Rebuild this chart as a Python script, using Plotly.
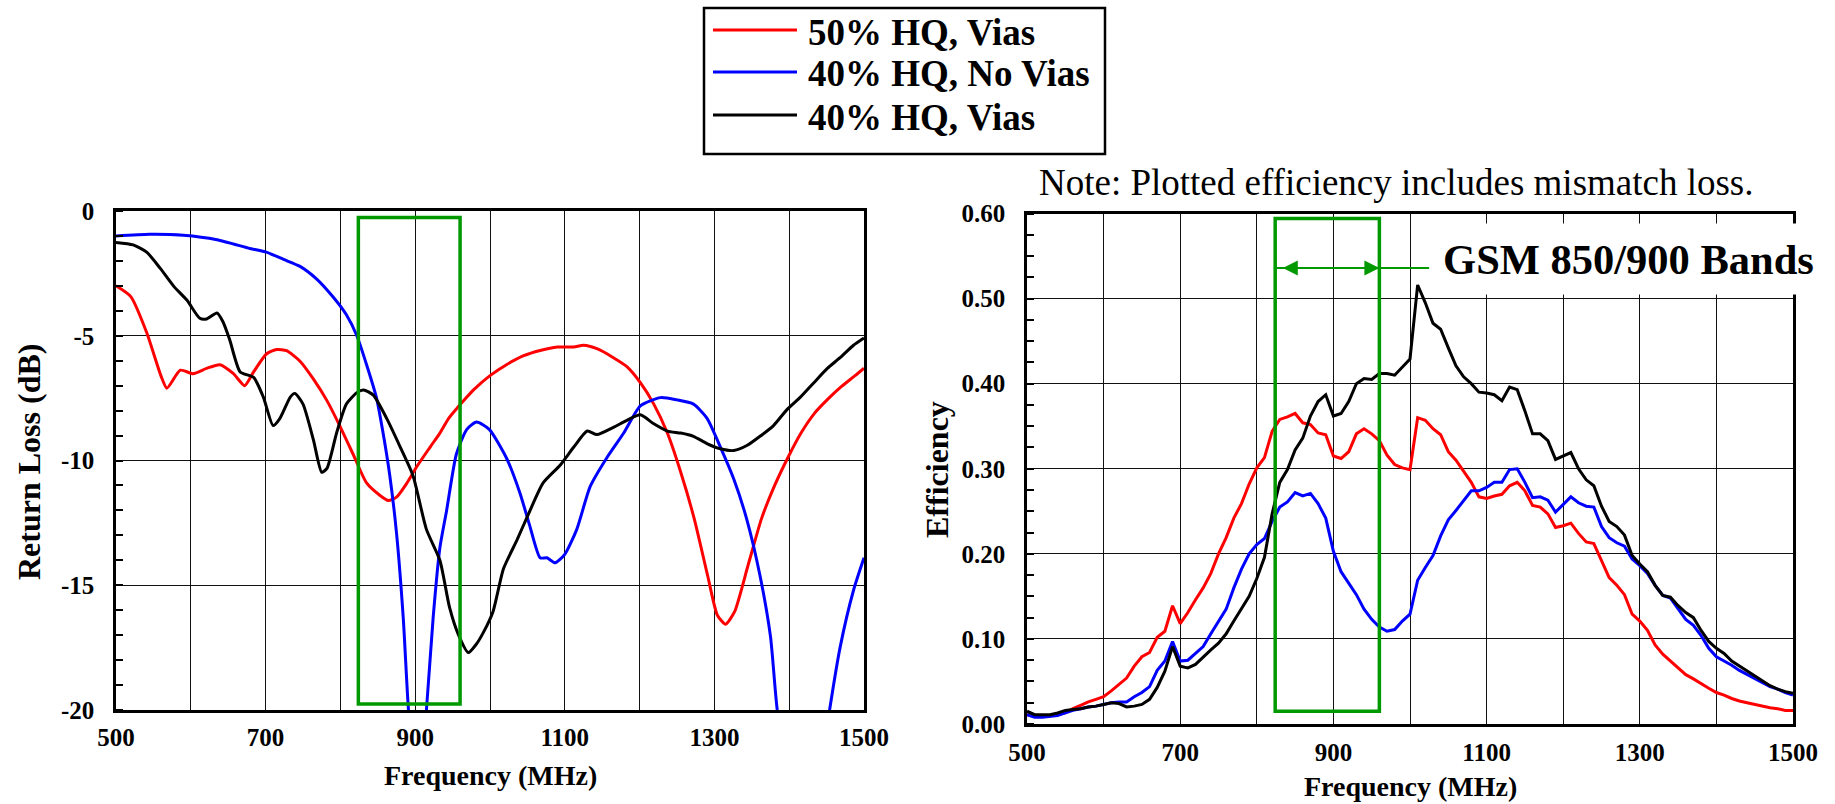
import plotly.graph_objects as go

W, H = 1835, 804
SERIF = "Liberation Serif, Times New Roman, serif"

# ---------------- data ----------------
series_names = ["50% HQ, Vias", "40% HQ, No Vias", "40% HQ, Vias"]
series_colors = ["#ff0000", "#0000ff", "#000000"]

# Return loss (dB)
rl_red_f = [500, 520, 541, 560, 568, 586, 603, 621, 639, 657, 672, 684, 701, 715, 728, 746, 764, 782,
            799, 817, 835, 853, 864, 875, 889, 902, 920, 933, 945, 956, 967, 978, 1000, 1022, 1045,
            1067, 1090, 1112, 1125, 1143, 1165, 1183, 1201, 1219, 1237, 1255, 1273, 1291, 1304, 1315,
            1327, 1345, 1363, 1380, 1398, 1416, 1434, 1452, 1470, 1488, 1500]
rl_red_db = [-3.0, -3.44, -4.87, -6.6, -7.1, -6.38, -6.52, -6.31, -6.16, -6.52, -7.0, -6.45, -5.73,
             -5.55, -5.6, -6.02, -6.74, -7.6, -8.6, -9.75, -10.9, -11.4, -11.6, -11.47, -10.9, -10.25,
             -9.46, -8.9, -8.3, -7.9, -7.53, -7.17, -6.6, -6.16, -5.8, -5.59, -5.45, -5.45, -5.38,
             -5.52, -5.88, -6.24, -6.88, -7.74, -8.89, -10.47, -12.33, -14.62, -16.2, -16.56, -16.06,
             -14.2, -12.33, -11.04, -9.9, -8.89, -8.1, -7.53, -7.03, -6.6, -6.3]

rl_blue_f = [500, 545, 590, 635, 679, 701, 724, 746, 768, 790, 808, 822, 835, 848, 857, 866, 875, 884,
             891, 903, 915, 924, 933, 942, 955, 969, 982, 999, 1022, 1040, 1053, 1067, 1076, 1087,
             1100, 1116, 1134, 1156, 1179, 1201, 1228, 1250, 1272, 1290, 1308, 1326, 1343, 1361, 1375,
             1384, 1420, 1454, 1468, 1486, 1500]
rl_blue_db = [-1.0, -0.93, -0.97, -1.15, -1.5, -1.65, -1.94, -2.22, -2.72, -3.44, -4.16, -5.0, -6.16,
              -7.46, -8.89, -10.6, -12.9, -16.3, -20.0, -24.0, -20.0, -16.3, -13.5, -12.0, -9.75, -8.75,
              -8.46, -8.75, -9.9, -11.3, -12.6, -13.9, -13.9, -14.1, -13.76, -12.76, -11.04, -9.9,
              -8.89, -7.81, -7.48, -7.57, -7.74, -8.3, -9.46, -10.75, -12.33, -14.62, -17.06, -20.0,
              -27.0, -20.0, -17.5, -15.2, -13.9]

rl_black_f = [500, 523, 541, 559, 577, 595, 612, 621, 635, 643, 652, 666, 684, 697, 710, 719, 733, 739,
              750, 764, 775, 782, 795, 808, 822, 831, 844, 862, 880, 897, 915, 933, 946, 958, 971, 982,
              991, 1004, 1018, 1036, 1053, 1071, 1094, 1112, 1130, 1143, 1165, 1183, 1201, 1219, 1237,
              1255, 1272, 1290, 1308, 1326, 1344, 1361, 1379, 1397, 1415, 1433, 1451, 1468, 1486, 1500]
rl_black_db = [-1.26, -1.36, -1.65, -2.29, -3.01, -3.58, -4.3, -4.33, -4.09, -4.44, -5.16, -6.45, -6.67,
               -7.46, -8.6, -8.32, -7.46, -7.31, -7.74, -9.18, -10.47, -10.32, -8.89, -7.74, -7.28,
               -7.17, -7.38, -8.32, -9.46, -10.6, -12.76, -14.0, -15.9, -17.0, -17.7, -17.35, -16.9,
               -16.06, -14.34, -13.19, -12.04, -10.9, -10.18, -9.46, -8.82, -8.96, -8.67, -8.39, -8.17,
               -8.53, -8.82, -8.9, -9.03, -9.32, -9.53, -9.6, -9.39, -9.03, -8.6, -7.96, -7.46, -6.88,
               -6.31, -5.88, -5.38, -5.09]

# Efficiency (10 MHz steps)
eff_f = list(range(500, 1501, 10))
eff_red = [0.011, 0.009, 0.009, 0.010, 0.011, 0.013, 0.018, 0.022, 0.026, 0.029, 0.032, 0.039, 0.047,
           0.054, 0.068, 0.079, 0.084, 0.102, 0.109, 0.139, 0.118, 0.131, 0.146, 0.160, 0.177, 0.200,
           0.219, 0.242, 0.259, 0.282, 0.301, 0.313, 0.344, 0.358, 0.361, 0.365, 0.354, 0.352, 0.342,
           0.340, 0.315, 0.312, 0.320, 0.341, 0.347, 0.341, 0.333, 0.316, 0.305, 0.301, 0.299, 0.360,
           0.357, 0.347, 0.340, 0.320, 0.310, 0.297, 0.284, 0.267, 0.265, 0.268, 0.270, 0.280, 0.284,
           0.274, 0.257, 0.255, 0.247, 0.231, 0.233, 0.236, 0.224, 0.214, 0.212, 0.192, 0.172, 0.163,
           0.152, 0.129, 0.121, 0.110, 0.093, 0.082, 0.074, 0.066, 0.058, 0.053, 0.047, 0.042, 0.037,
           0.034, 0.030, 0.027, 0.025, 0.023, 0.021, 0.019, 0.018, 0.016, 0.016]
eff_blue = [0.011, 0.008, 0.008, 0.009, 0.010, 0.013, 0.016, 0.018, 0.020, 0.021, 0.023, 0.025, 0.026,
            0.026, 0.032, 0.037, 0.044, 0.063, 0.074, 0.097, 0.074, 0.075, 0.083, 0.091, 0.106, 0.121,
            0.135, 0.160, 0.182, 0.200, 0.211, 0.218, 0.238, 0.255, 0.261, 0.272, 0.268, 0.271, 0.259,
            0.242, 0.203, 0.179, 0.165, 0.152, 0.135, 0.123, 0.114, 0.109, 0.111, 0.121, 0.129, 0.169,
            0.184, 0.198, 0.221, 0.240, 0.251, 0.263, 0.274, 0.274, 0.278, 0.284, 0.284, 0.299, 0.300,
            0.284, 0.266, 0.267, 0.263, 0.249, 0.258, 0.267, 0.260, 0.256, 0.255, 0.232, 0.219, 0.213,
            0.209, 0.194, 0.186, 0.177, 0.163, 0.151, 0.148, 0.135, 0.123, 0.116, 0.104, 0.089, 0.079,
            0.074, 0.069, 0.063, 0.058, 0.053, 0.048, 0.044, 0.041, 0.037, 0.034]
eff_black = [0.015, 0.011, 0.011, 0.011, 0.013, 0.016, 0.017, 0.018, 0.020, 0.021, 0.023, 0.025, 0.024,
             0.020, 0.021, 0.023, 0.029, 0.043, 0.062, 0.091, 0.068, 0.066, 0.070, 0.079, 0.087, 0.095,
             0.106, 0.121, 0.135, 0.150, 0.171, 0.196, 0.247, 0.284, 0.299, 0.322, 0.336, 0.362, 0.379,
             0.387, 0.362, 0.365, 0.379, 0.400, 0.406, 0.405, 0.412, 0.412, 0.410, 0.420, 0.429, 0.516,
             0.495, 0.471, 0.464, 0.442, 0.421, 0.408, 0.400, 0.390, 0.389, 0.387, 0.380, 0.396, 0.393,
             0.368, 0.341, 0.341, 0.333, 0.311, 0.315, 0.319, 0.300, 0.287, 0.280, 0.256, 0.238, 0.232,
             0.222, 0.198, 0.188, 0.179, 0.163, 0.151, 0.149, 0.139, 0.131, 0.125, 0.110, 0.097, 0.089,
             0.083, 0.074, 0.068, 0.063, 0.057, 0.051, 0.045, 0.041, 0.038, 0.036]

freq_ticks = list(range(500, 1501, 100))
freq_ticktext = [str(v) if v % 200 == 100 else "" for v in freq_ticks]
rl_ticks = [0, -5, -10, -15, -20]
rl_ticktext = ["0", "-5", "-10", "-15", "-20"]
eff_ticks = [0.0, 0.1, 0.2, 0.3, 0.4, 0.5, 0.6]
eff_ticktext = ["0.00", "0.10", "0.20", "0.30", "0.40", "0.50", "0.60"]

gsm_band = [824, 960]          # MHz, GSM 850/900
gsm_box_rl = [-0.26, -19.76]   # dB extents of the box in left chart
gsm_box_eff = [0.015, 0.594]   # extents of the box in right chart
gsm_arrow_eff = 0.536
gsm_arrow_end = 1025

GREEN = "#009900"


def px(x):
    return x / W


def py(y):
    return 1 - y / H


# ---------------- figure ----------------
fig = go.Figure()

rl_data = [(rl_red_f, rl_red_db), (rl_blue_f, rl_blue_db), (rl_black_f, rl_black_db)]
for (f, v), c, n in zip(rl_data, series_colors, series_names):
    fig.add_trace(go.Scatter(x=f, y=v, mode="lines", name=n, showlegend=False,
                             line=dict(color=c, width=3, shape="spline", smoothing=0.6),
                             xaxis="x", yaxis="y", hoverinfo="skip"))

for v, c, n in zip([eff_red, eff_blue, eff_black], series_colors, series_names):
    fig.add_trace(go.Scatter(x=eff_f, y=v, mode="lines", name=n, showlegend=False,
                             line=dict(color=c, width=3),
                             xaxis="x2", yaxis="y2", hoverinfo="skip"))

tickfont = dict(family=SERIF, size=25, color="black", weight="bold")
axis_common = dict(showgrid=True, gridcolor="#111111", gridwidth=1, showline=True,
                   linecolor="black", linewidth=2.5, mirror=True, ticks="", zeroline=False,
                   tickfont=tickfont, fixedrange=True, automargin=False)

xcommon = dict(range=[500, 1500], tickmode="array", tickvals=freq_ticks, ticktext=freq_ticktext,
               **axis_common)

fig.update_layout(
    width=W, height=H,
    margin=dict(l=0, r=0, t=0, b=0),
    paper_bgcolor="white", plot_bgcolor="white",
    showlegend=False,
    xaxis=dict(domain=[px(116), px(864)], anchor="y", ticklabelstandoff=3, **xcommon),
    yaxis=dict(domain=[py(710), py(211)], anchor="x", range=[-20, 0], tickmode="array",
               tickvals=rl_ticks, ticktext=rl_ticktext, ticklabelstandoff=14,
               minor=dict(tickmode="linear", tick0=0, dtick=1, ticks="inside", ticklen=7,
                          tickwidth=1.5, tickcolor="black", showgrid=False),
               **axis_common),
    xaxis2=dict(domain=[px(1027), px(1793)], anchor="y2", ticklabelstandoff=4, **xcommon),
    yaxis2=dict(domain=[py(724), py(213.5)], anchor="x2", range=[0, 0.6], tickmode="array",
                tickvals=eff_ticks, ticktext=eff_ticktext, ticklabelstandoff=14,
                minor=dict(tickmode="linear", tick0=0, dtick=0.025, ticks="inside", ticklen=7,
                           tickwidth=1.5, tickcolor="black", showgrid=False),
                **axis_common),
)

shapes = []
# GSM band boxes
shapes.append(dict(type="rect", xref="x", yref="y", x0=gsm_band[0], x1=gsm_band[1],
                   y0=gsm_box_rl[0], y1=gsm_box_rl[1], line=dict(color=GREEN, width=3.5),
                   layer="above"))
shapes.append(dict(type="rect", xref="x2", yref="y2", x0=gsm_band[0], x1=gsm_band[1],
                   y0=gsm_box_eff[0], y1=gsm_box_eff[1], line=dict(color=GREEN, width=3.5),
                   layer="above"))
shapes.append(dict(type="line", xref="x2", yref="y2", x0=gsm_band[0], x1=gsm_arrow_end,
                   y0=gsm_arrow_eff, y1=gsm_arrow_eff, line=dict(color=GREEN, width=2),
                   layer="above"))

# Legend box (manual, to reproduce long line samples)
shapes.append(dict(type="rect", xref="paper", yref="paper", x0=px(704), x1=px(1105),
                   y0=py(154), y1=py(8), line=dict(color="black", width=2.5),
                   fillcolor="white", layer="above"))
legend_rows_y = [30, 72, 115]
for yy, c in zip(legend_rows_y, series_colors):
    shapes.append(dict(type="line", xref="paper", yref="paper", x0=px(713), x1=px(797),
                       y0=py(yy), y1=py(yy), line=dict(color=c, width=3), layer="above"))
fig.update_layout(shapes=shapes)

annotations = []
for yy, n in zip(legend_rows_y, series_names):
    annotations.append(dict(xref="paper", yref="paper", x=px(806), y=py(yy + 2), text=n,
                            showarrow=False, xanchor="left", yanchor="middle",
                            font=dict(family=SERIF, size=37, color="black", weight="bold")))

# arrow with two heads
annotations.append(dict(xref="x2", yref="y2", axref="x2", ayref="y2",
                        x=gsm_band[1], y=gsm_arrow_eff, ax=gsm_band[0] + 8, ay=gsm_arrow_eff,
                        text="", showarrow=True, arrowhead=2, startarrowhead=2,
                        arrowside="end+start", arrowsize=1.5, startarrowsize=1.5,
                        arrowwidth=2, arrowcolor=GREEN, standoff=0, startstandoff=0))

# GSM label with white background
annotations.append(dict(xref="paper", yref="paper", x=px(1430), y=py(262), xanchor="left",
                        yanchor="middle", width=391, height=66, borderpad=2, bgcolor="white",
                        text="GSM 850/900 Bands", showarrow=False, align="center", valign="middle",
                        yshift=3,
                        font=dict(family=SERIF, size=42.5, color="black", weight="bold")))

# Note
annotations.append(dict(xref="paper", yref="paper", x=px(1037), y=py(182), xanchor="left",
                        yanchor="middle", text="Note: Plotted efficiency includes mismatch loss.",
                        showarrow=False, font=dict(family=SERIF, size=37, color="black")))

# Axis titles
title_font_x = dict(family=SERIF, size=28, color="black", weight="bold")
title_font_y = dict(family=SERIF, size=32, color="black", weight="bold")
annotations.append(dict(xref="paper", yref="paper", x=px(490), y=py(775), text="Frequency (MHz)",
                        showarrow=False, xanchor="center", yanchor="middle", font=title_font_x))
annotations.append(dict(xref="paper", yref="paper", x=px(1410), y=py(786), text="Frequency (MHz)",
                        showarrow=False, xanchor="center", yanchor="middle", font=title_font_x))
annotations.append(dict(xref="paper", yref="paper", x=px(29), y=py(462), text="Return Loss (dB)",
                        showarrow=False, xanchor="center", yanchor="middle", textangle=-90,
                        font=title_font_y))
annotations.append(dict(xref="paper", yref="paper", x=px(937), y=py(470), text="Efficiency",
                        showarrow=False, xanchor="center", yanchor="middle", textangle=-90,
                        font=title_font_y))
fig.update_layout(annotations=annotations)

fig.write_html("out.html", config={"displayModeBar": False},
               post_script="document.body.style.margin='0px';document.body.style.overflow='hidden';")
